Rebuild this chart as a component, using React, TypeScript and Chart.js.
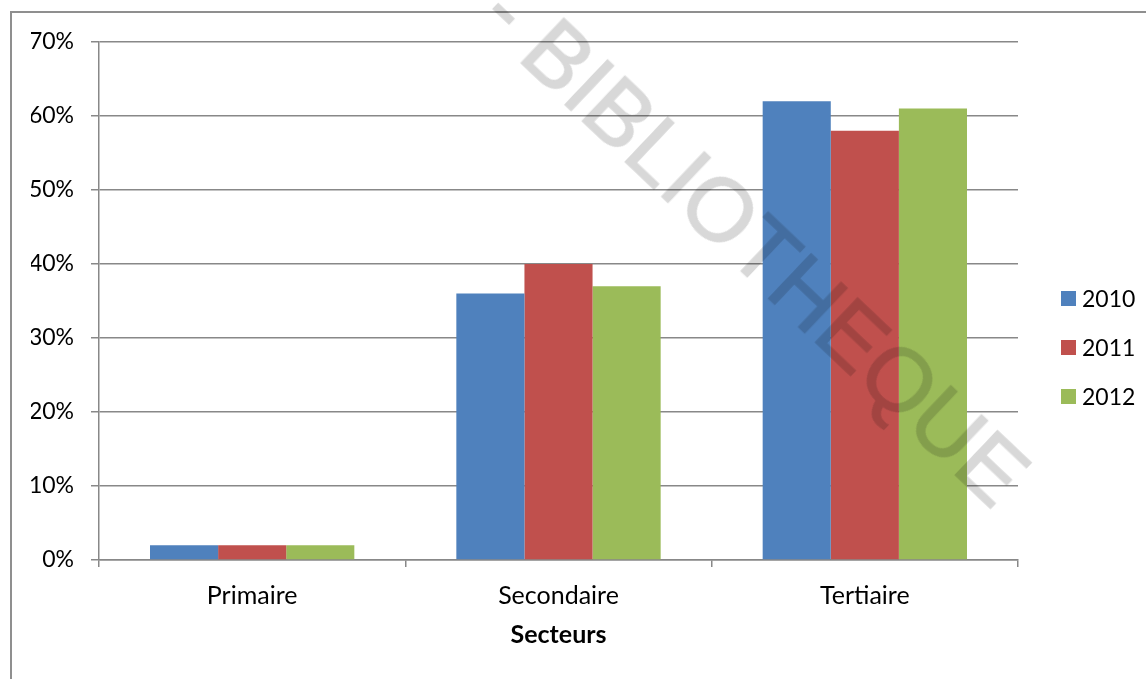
import React, { useEffect, useRef } from "react";
import { Chart, registerables } from "chart.js";
import type { Plugin } from "chart.js";

Chart.register(...registerables);

// Share of each sector (%) per year
const sectors = ["Primaire", "Secondaire", "Tertiaire"];
const years = ["2010", "2011", "2012"];
const share2010 = [2, 36, 62];
const share2011 = [2, 40, 58];
const share2012 = [2, 37, 61];
const yearColors = ["#4F81BD", "#C0504D", "#9BBB59"];
const yMax = 70;
const yStep = 10;
const axisTitle = "Secteurs";
const stampPrefix = "- ";
const stampText = "BIBLIOTHEQUE";

const FONT = "Lato, 'Open Sans', sans-serif";
const GRID = "#888888";
const STAMP = "#d8d8d8";

// Legend drawn to the right of the plot, vertically centred on the canvas
const sideLegend: Plugin<"bar"> = {
  id: "sideLegend",
  afterDraw(chart) {
    const { ctx, chartArea } = chart;
    const x = chartArea.right + 43;
    const mid = chart.height / 2 + 8;
    ctx.save();
    ctx.font = `23px ${FONT}`;
    ctx.textBaseline = "middle";
    ctx.textAlign = "left";
    chart.data.datasets.forEach((ds, i) => {
      const y = mid + (i - 1) * 49;
      ctx.fillStyle = ds.backgroundColor as string;
      ctx.fillRect(x, y - 7.5, 15, 15);
      ctx.fillStyle = "#000";
      ctx.fillText(String(ds.label), x + 21, y + 1);
    });
    ctx.restore();
  },
};

function SectorChart() {
  const canvasRef = useRef<HTMLCanvasElement | null>(null);

  useEffect(() => {
    if (!canvasRef.current) return;
    const series = [share2010, share2011, share2012];
    const chart = new Chart(canvasRef.current, {
      type: "bar",
      data: {
        labels: sectors,
        datasets: years.map((year, i) => ({
          label: year,
          data: series[i],
          backgroundColor: yearColors[i],
          borderWidth: 0,
          categoryPercentage: 0.667,
          barPercentage: 1.0,
        })),
      },
      options: {
        responsive: false,
        animation: false,
        layout: { padding: { left: 31, top: 42, right: 128, bottom: 28 } },
        plugins: {
          legend: { display: false },
          tooltip: { enabled: false },
        },
        scales: {
          x: {
            grid: {
              display: true,
              drawOnChartArea: false,
              drawTicks: true,
              tickLength: 7,
              color: GRID,
              lineWidth: 1.5,
              offset: true,
            },
            border: { color: GRID, width: 1.5 },
            ticks: { font: { family: FONT, size: 25 }, color: "#000", padding: 14 },
            title: {
              display: true,
              text: axisTitle,
              color: "#000",
              font: { family: FONT, size: 25, weight: "bold" },
              padding: { top: 0, bottom: 1 },
            },
            afterFit: (s) => {
              s.height = 91;
            },
          },
          y: {
            min: 0,
            max: yMax,
            ticks: {
              stepSize: yStep,
              callback: (v) => `${v}%`,
              font: { family: FONT, size: 23 },
              color: "#000",
              padding: 17,
            },
            grid: { color: GRID, lineWidth: 1.5, tickLength: 8 },
            border: { color: GRID, width: 1.5 },
            afterFit: (s) => {
              s.width = 68;
            },
          },
        },
      },
      plugins: [sideLegend],
    });
    return () => chart.destroy();
  }, []);

  return <canvas ref={canvasRef} width={1146} height={679} style={{ display: "block" }} />;
}

export default function App() {
  return (
    <div
      style={{
        position: "fixed",
        left: 0,
        top: 0,
        width: 1146,
        height: 679,
        overflow: "hidden",
        background: "#fff",
      }}
    >
      <SectorChart />
      {/* outer frame, only its top and left edges fall inside the view */}
      <div
        style={{
          position: "absolute",
          left: 10,
          top: 11,
          width: 1200,
          height: 800,
          borderLeft: "2px solid #8f8f8f",
          borderTop: "2px solid #8f8f8f",
          pointerEvents: "none",
        }}
      />
      {/* diagonal library stamp */}
      <div
        style={{
          position: "absolute",
          left: 776,
          top: 262,
          width: 0,
          height: 0,
          transform: "rotate(43.5deg)",
          mixBlendMode: "multiply",
          pointerEvents: "none",
        }}
      >
        <span
          style={{
            position: "absolute",
            left: 0,
            top: 0,
            transform: "translate(-50%, -50%)",
            whiteSpace: "pre",
            fontFamily: "'Liberation Sans', Arial, sans-serif",
            fontSize: 89,
            lineHeight: 1,
            color: STAMP,
            WebkitTextStroke: `1.5px ${STAMP}`,
          }}
        >
          <span style={{ position: "absolute", right: "100%", top: 0 }}>{stampPrefix}</span>
          {stampText}
        </span>
      </div>
    </div>
  );
}
